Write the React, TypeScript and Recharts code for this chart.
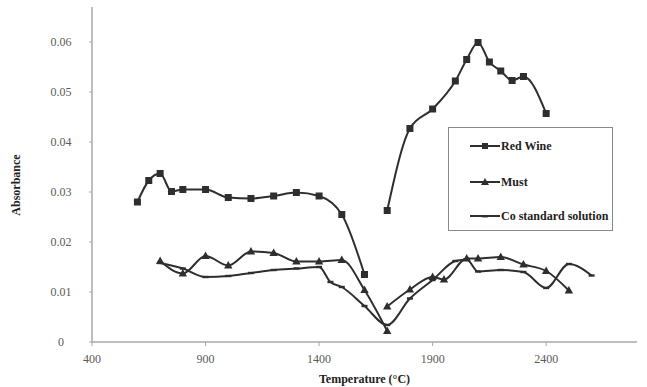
import React from 'react';
import { LineChart, Line, XAxis, YAxis, Legend } from 'recharts';

// Temperature (°C) and absorbance values
const redWineT = [600, 650, 700, 750, 800, 900, 1000, 1100, 1200, 1300, 1400, 1500, 1600, 1650, 1700, 1800, 1900, 2000, 2050, 2100, 2150, 2200, 2250, 2300, 2400];
const redWineA: (number | null)[] = [0.028, 0.0323, 0.0337, 0.0301, 0.0305, 0.0305, 0.0289, 0.0287, 0.0292, 0.0299, 0.0292, 0.0255, 0.0135, null, 0.0263, 0.0427, 0.0466, 0.0522, 0.0565, 0.0599, 0.056, 0.0542, 0.0523, 0.0531, 0.0457];

const mustT = [700, 800, 900, 1000, 1100, 1200, 1300, 1400, 1500, 1600, 1700, 1700, 1700, 1800, 1900, 1950, 2050, 2100, 2200, 2300, 2400, 2500];
const mustA: (number | null)[] = [0.0162, 0.0137, 0.0172, 0.0153, 0.0181, 0.0178, 0.0161, 0.0161, 0.0164, 0.0104, 0.0022, null, 0.0071, 0.0105, 0.013, 0.0125, 0.0167, 0.0167, 0.017, 0.0155, 0.0142, 0.0103];

const coT = [700, 800, 900, 1000, 1100, 1200, 1300, 1400, 1450, 1500, 1600, 1700, 1800, 1900, 2000, 2050, 2100, 2200, 2300, 2400, 2500, 2600];
const coA: (number | null)[] = [0.0158, 0.0147, 0.013, 0.0132, 0.0138, 0.0144, 0.0147, 0.015, 0.012, 0.011, 0.0072, 0.0034, 0.0087, 0.0124, 0.0162, 0.0165, 0.0141, 0.0144, 0.014, 0.0108, 0.0156, 0.0133];

const xTicks = [400, 900, 1400, 1900, 2400];
const yTicks = [0, 0.01, 0.02, 0.03, 0.04, 0.05, 0.06];

const seriesNames = ['Red Wine', 'Must', 'Co standard solution'];

const toRows = (t: number[], a: (number | null)[]) => t.map((T, i) => ({ T, v: a[i] }));
const redWineData = toRows(redWineT, redWineA);
const mustData = toRows(mustT, mustA);
const coData = toRows(coT, coA);

const INK = '#2e2e2e';
const AXIS = '#a8a8a8';
const FONT = '"Liberation Serif", "Times New Roman", serif';

const SquareDot = (p: any) => {
  const { cx, cy, index, value } = p;
  if (cx == null || cy == null || value == null) return <g key={`s${index}`} />;
  return <rect key={`s${index}`} x={cx - 3.5} y={cy - 3.5} width={7} height={7} fill={INK} />;
};
const TriDot = (p: any) => {
  const { cx, cy, index, value } = p;
  if (cx == null || cy == null || value == null) return <g key={`t${index}`} />;
  return <path key={`t${index}`} d={`M${cx},${cy - 4.5} L${cx + 4.2},${cy + 3} L${cx - 4.2},${cy + 3} Z`} fill={INK} />;
};
const DashDot = (p: any) => {
  const { cx, cy, index, value } = p;
  if (cx == null || cy == null || value == null) return <g key={`d${index}`} />;
  return <rect key={`d${index}`} x={cx - 3} y={cy - 1.2} width={6} height={2.4} fill={INK} />;
};

const XTick = (p: any) => (
  <text x={p.x} y={p.y} dy={15} textAnchor="middle" fontSize={12} fontFamily={FONT} fill="#5a5a5a">
    {p.payload.value}
  </text>
);
const YTick = (p: any) => (
  <text x={61} y={p.y} dy={4} textAnchor="middle" fontSize={12} fontFamily={FONT} fill="#5a5a5a">
    {String(p.payload.value)}
  </text>
);

const markers = ['square', 'triangle', 'dash'];

const LegendBox = () => (
  <div
    style={{
      width: 165,
      height: 104,
      boxSizing: 'border-box',
      border: '1.5px solid #8a8a8a',
      background: '#fff',
      position: 'relative',
      fontFamily: FONT,
    }}
  >
    {seriesNames.map((name, i) => {
      const top = [18, 54, 88][i];
      const m = markers[i];
      return (
        <div key={name} style={{ position: 'absolute', left: 20, top: top - 8, height: 16, display: 'flex', alignItems: 'center' }}>
          <svg width={32} height={16}>
            <line x1={1} y1={8} x2={31} y2={8} stroke={INK} strokeWidth={2} />
            {m === 'square' && <rect x={13} y={5} width={6} height={6} fill={INK} />}
            {m === 'triangle' && <path d="M16,4 L20,11 L12,11 Z" fill={INK} />}
            {m === 'dash' && <rect x={13} y={7} width={6} height={2.4} fill={INK} />}
          </svg>
          <span style={{ fontSize: 12, fontWeight: 'bold', color: '#222', whiteSpace: 'nowrap' }}>{name}</span>
        </div>
      );
    })}
  </div>
);

export default function App() {
  return (
    <div style={{ position: 'absolute', left: 0, top: 0, width: 647, height: 387, background: '#fff' }}>
      <LineChart width={647} height={387} margin={{ top: 7, right: 10, bottom: 0, left: 0 }}>
        <XAxis
          dataKey="T"
          type="number"
          domain={[400, 2800]}
          ticks={xTicks}
          height={45}
          tickSize={4}
          stroke={AXIS}
          axisLine={{ stroke: AXIS, strokeWidth: 1.5 }}
          tickLine={{ stroke: AXIS }}
          tick={<XTick />}
          allowDataOverflow
          label={{
            value: 'Temperature (°C)',
            position: 'insideBottom',
            offset: 4,
            style: { fontFamily: FONT, fontSize: 12, fontWeight: 'bold', fill: '#222' },
          }}
        />
        <YAxis
          type="number"
          domain={[0, 0.067]}
          ticks={yTicks}
          width={92}
          tickSize={3}
          axisLine={{ stroke: AXIS, strokeWidth: 1.5 }}
          tickLine={{ stroke: AXIS }}
          tick={<YTick />}
          allowDataOverflow
          label={{
            content: () => (
              <text
                transform="translate(20,185) rotate(-90)"
                textAnchor="middle"
                fontFamily={FONT}
                fontSize={12}
                fontWeight="bold"
                fill="#222"
              >
                Absorbance
              </text>
            ),
          }}
        />
        <Legend
          layout="vertical"
          align="center"
          verticalAlign="middle"
          content={() => <LegendBox />}
          wrapperStyle={{ left: 448, top: 127, width: 165, height: 104 }}
        />
        <Line
          data={redWineData}
          dataKey="v"
          name={seriesNames[0]}
          type="monotone"
          stroke={INK}
          strokeWidth={2}
          dot={SquareDot}
          activeDot={false}
          connectNulls={false}
          isAnimationActive={false}
        />
        <Line
          data={mustData}
          dataKey="v"
          name={seriesNames[1]}
          type="monotone"
          stroke={INK}
          strokeWidth={2}
          dot={TriDot}
          activeDot={false}
          connectNulls={false}
          isAnimationActive={false}
        />
        <Line
          data={coData}
          dataKey="v"
          name={seriesNames[2]}
          type="monotone"
          stroke={INK}
          strokeWidth={2}
          dot={DashDot}
          activeDot={false}
          connectNulls={false}
          isAnimationActive={false}
        />
      </LineChart>
    </div>
  );
}
